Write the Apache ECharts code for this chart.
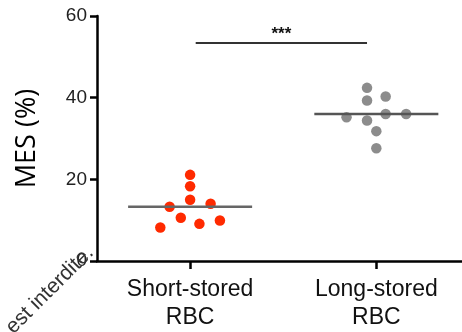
<!DOCTYPE html>
<html><head><meta charset="utf-8">
<script src="https://cdn.jsdelivr.net/npm/echarts@6/dist/echarts.min.js"></script>
<style>html,body{margin:0;padding:0;background:#fff}#c{width:462px;height:332px}</style>
</head><body><div id="c"></div>
<script>
const categories = ["Short-stored\nRBC", "Long-stored\nRBC"];
const shortValues = [8.2, 13.3, 10.6, 21.1, 18.3, 15.0, 9.1, 14.0, 9.9];
const shortJitter = [-0.16, -0.11, -0.05, 0, 0, 0, 0.05, 0.11, 0.16];
const longValues = [35.2, 42.4, 39.3, 34.4, 31.8, 27.6, 40.3, 36.0, 36.0];
const longJitter = [-0.16, -0.05, -0.05, -0.05, 0, 0, 0.05, 0.05, 0.16];
const means = [13.3, 36.0];
const yTicks = [0, 20, 40, 60];
const sigLabel = "***";
const sigLevel = 53.4;

const font = "Liberation Sans, Arial, sans-serif";
function pts(vals, jit, cat) { return vals.map((v, i) => [cat + jit[i], v]); }

const chart = echarts.init(document.getElementById('c'), null, {renderer: 'canvas'});
chart.setOption({
  animation: false,
  grid: {left: 97, right: 0, top: 16, bottom: 69},
  xAxis: {
    type: 'value', min: 0.5, max: 2.46,
    axisLine: {lineStyle: {color: '#000', width: 2.5}},
    axisTick: {show: true, length: 8, lineStyle: {color: '#000', width: 2.5}, customValues: [1, 2]},
    axisLabel: {customValues: [1, 2], formatter: v => categories[Math.round(v) - 1] || '',
      color: '#111', fontSize: 23, fontFamily: font, lineHeight: 28, margin: 15},
    splitLine: {show: false}
  },
  yAxis: {
    type: 'value', min: 0, max: 60, interval: 20,
    name: 'MES (%)', nameLocation: 'middle', nameRotate: 90, nameGap: 56,
    nameTextStyle: {fontSize: 27, fontFamily: 'Open Sans, sans-serif', color: '#000'},
    axisLine: {show: true, lineStyle: {color: '#000', width: 2.5}},
    axisTick: {show: true, length: 7, lineStyle: {color: '#000', width: 2.5}},
    axisLabel: {color: '#222', fontSize: 19, fontFamily: font, margin: 10,
      formatter: v => yTicks.includes(v) ? String(v) : ''},
    splitLine: {show: false}
  },
  series: [
    {type: 'line', data: [[1 - 0.333, means[0]], [1 + 0.333, means[0]]], symbol: 'none',
      lineStyle: {color: '#666', width: 2.5}, z: 3},
    {type: 'line', data: [[2 - 0.333, means[1]], [2 + 0.333, means[1]]], symbol: 'none',
      lineStyle: {color: '#555', width: 2.5}, z: 3},
    {type: 'scatter', data: pts(shortValues, shortJitter, 1), symbolSize: 10.5,
      itemStyle: {color: '#ff2a00', opacity: 1}, z: 2},
    {type: 'scatter', data: pts(longValues, longJitter, 2), symbolSize: 10.5,
      itemStyle: {color: '#8c8c8c', opacity: 1}, z: 2},
    {type: 'line', data: [[1.03, sigLevel], [1.95, sigLevel]], symbol: 'none',
      lineStyle: {color: '#333', width: 2}, z: 3,
      markPoint: {symbol: 'rect', symbolSize: 1, itemStyle: {color: 'transparent'},
        label: {show: true, formatter: sigLabel, color: '#111', fontSize: 17, fontWeight: 'bold', fontFamily: font, offset: [0, -9]},
        data: [{coord: [1.49, sigLevel]}]}}
  ],
  graphic: [
    {type: 'text', x: 2, y: 323, rotation: Math.PI * 45 / 180,
      style: {text: 'est interdite.', font: '21px ' + font, fill: '#333'}, z: 10}
  ]
});
</script></body></html>
